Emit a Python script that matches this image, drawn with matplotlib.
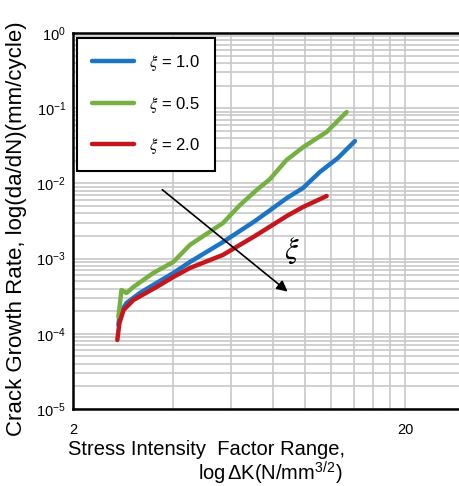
import numpy as np
import matplotlib
matplotlib.use("Agg")
import matplotlib.pyplot as plt
from matplotlib.ticker import FixedLocator, NullFormatter, LogLocator

plt.rcParams["font.family"] = ["Liberation Sans", "DejaVu Sans"]
plt.rcParams["mathtext.fontset"] = "stix"

# ── data (ΔK in N/mm^3/2, da/dN in mm/cycle) ───────────────────────────────
dk_blue = [2.74, 2.77, 2.90, 3.18, 3.61, 4.01, 4.50, 5.66, 7.07, 8.82, 9.86, 11.09, 12.57, 14.14]
rate_blue = [1.31e-4, 1.89e-4, 2.57e-4, 3.49e-4, 4.88e-4, 6.43e-4, 9.01e-4, 1.66e-3,
             3.16e-3, 6.39e-3, 8.69e-3, 1.42e-2, 2.18e-2, 3.66e-2]

dk_green = [2.74, 2.80, 2.90, 3.04, 3.49, 4.01, 4.50, 5.66, 6.37, 7.15, 7.84, 8.80,
            9.89, 11.62, 13.35]
rate_green = [1.67e-4, 3.82e-4, 3.49e-4, 4.19e-4, 6.43e-4, 9.01e-4, 1.52e-3, 2.97e-3,
              5.16e-3, 8.17e-3, 1.14e-2, 2.05e-2, 3.05e-2, 4.83e-2, 8.90e-2]

dk_red = [2.72, 2.76, 2.84, 3.04, 3.57, 4.01, 4.50, 5.66, 7.07, 8.82, 9.86, 11.62]
rate_red = [8.27e-5, 1.39e-4, 2.07e-4, 2.81e-4, 4.19e-4, 5.69e-4, 7.50e-4, 1.12e-3,
            2.00e-3, 3.69e-3, 4.85e-3, 6.80e-3]

labels = [r"$\xi$ = 1.0", r"$\xi$ = 0.5", r"$\xi$ = 2.0"]
colors = ["#1c74c4", "#76b043", "#c4161c"]

arrow_start = (3.66, 8.7e-3)
arrow_end = (9.0, 3.45e-4)
xi_pos = (9.13, 1.26e-3)

x_ticks = [2, 20]
x_grid = [4, 6, 8, 10, 12, 14, 16, 18, 20]

fig = plt.figure(figsize=(4.59, 4.86), dpi=100)
ax = fig.add_axes([73 / 459, 77 / 486, 386 / 459, 376 / 486])

for dk, rate, lab, c in zip([dk_blue, dk_green, dk_red], [rate_blue, rate_green, rate_red],
                            labels, colors):
    ax.plot(dk, rate, color=c, lw=3.2, label=lab, solid_capstyle="round", zorder=3)

ax.set_xscale("log")
ax.set_yscale("log")
ax.set_xlim(2, 29.1)
ax.set_ylim(1e-5, 1)

ax.xaxis.set_major_locator(FixedLocator(x_ticks))
ax.set_xticklabels([str(t) for t in x_ticks])
ax.xaxis.set_minor_locator(FixedLocator(x_grid))
ax.xaxis.set_minor_formatter(NullFormatter())
ax.yaxis.set_major_locator(LogLocator(base=10, numticks=10))
ax.yaxis.set_minor_locator(LogLocator(base=10, subs=np.arange(2, 10), numticks=20))
ax.yaxis.set_minor_formatter(NullFormatter())

ax.grid(True, which="both", color="#c8c8c8", lw=1.2, zorder=0)
ax.tick_params(which="both", length=0, labelsize=10.5)
ax.tick_params(axis="x", pad=10)
ax.tick_params(axis="y", pad=5)

ax.spines["right"].set_visible(False)
for s in ["left", "top", "bottom"]:
    ax.spines[s].set_linewidth(1.8)

ax.annotate("", xy=arrow_end, xytext=arrow_start,
            arrowprops=dict(arrowstyle="-|>", color="k", lw=1.2, mutation_scale=16), zorder=4)
ax.text(*xi_pos, r"$\xi$", fontsize=22, ha="center", va="center", zorder=4)

leg = ax.legend(loc="upper left", bbox_to_anchor=(0.0104, 0.987), borderaxespad=0,
                fontsize=12, handlelength=2.5, handletextpad=0.9, labelspacing=1.3,
                borderpad=0.9, fancybox=False, framealpha=1)
leg.get_frame().set_edgecolor("black")
leg.get_frame().set_linewidth(1.5)

ax.set_ylabel("Crack Growth Rate, log(da/dN)(mm/cycle)", fontsize=16)
ax.yaxis.set_label_coords(-0.12, 0.48)
fig.text(68 / 459, 1 - 440 / 486, "Stress Intensity  Factor Range,", fontsize=14.5,
         ha="left", va="top")
fig.text(343 / 459, 1 - 459 / 486, r"log$\,$ΔK(N/mm$^{\mathdefault{3/2}}$)", fontsize=14.5,
         ha="right", va="top")

fig.savefig("out.png", dpi=100)
